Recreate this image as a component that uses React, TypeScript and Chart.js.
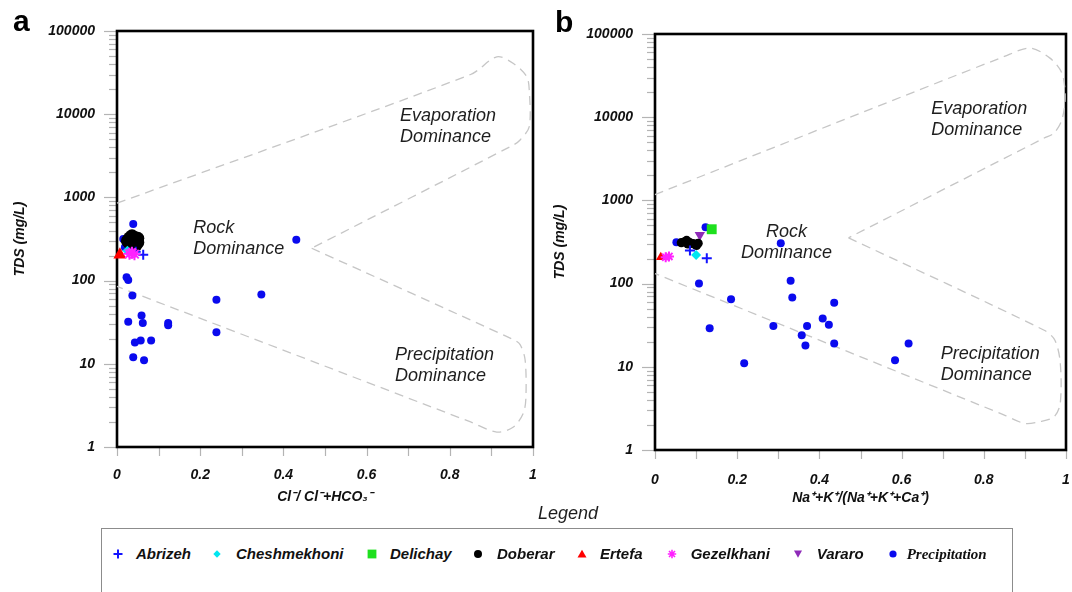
import React, { useEffect, useRef } from "react";
import { Chart, registerables } from "chart.js";

Chart.register(...registerables);

const SANS = "'Liberation Sans', Arial, Helvetica, sans-serif";
const SERIF = "'Liberation Serif', 'Times New Roman', serif";

// ---------- axes ----------
const xTickValues = [0, 0.2, 0.4, 0.6, 0.8, 1];
const xTickLabels = ["0", "0.2", "0.4", "0.6", "0.8", "1"];
const xMinorTicks = [0, 0.1, 0.2, 0.3, 0.4, 0.5, 0.6, 0.7, 0.8, 0.9, 1];
const yTickValues = [1, 10, 100, 1000, 10000, 100000];
const yTickLabels = ["1", "10", "100", "1000", "10000", "100000"];
const yDecades = [1, 10, 100, 1000, 10000];
const yMultipliers = [1, 2, 3, 4, 5, 6, 7, 8, 9];

// ---------- series ----------
const seriesNames = ["Abrizeh", "Cheshmekhoni", "Delichay", "Doberar", "Ertefa", "Gezelkhani", "Vararo", "Precipitation"];
const seriesColors = ["#1414ff", "#00e6f0", "#1ee01e", "#000000", "#ff0000", "#ff22ff", "#8e2ab8", "#0a0aee"];
const seriesShapes = ["cross", "diamond", "square", "circle", "triUp", "star", "triDown", "circle"];

// Panel a : x = Cl/(Cl+HCO3), y = TDS (mg/L)
const abrizehA = [[0.063, 205], [0.045, 222]];
const cheshmekhoniA = [[0.025, 228]];
const delichayA = [[0.04, 300]];
const doberarA = [[0.025, 300], [0.03, 325], [0.036, 345], [0.042, 330], [0.04, 312], [0.046, 300], [0.05, 288], [0.04, 278], [0.03, 282], [0.05, 322], [0.036, 262], [0.046, 268], [0.028, 305], [0.034, 295]];
const ertefaA = [[0.007, 205]];
const gezelkhaniA = [[0.03, 210], [0.036, 216], [0.042, 208]];
const vararoA = [[0.046, 292]];
const precipitationA = [[0.039, 480], [0.015, 317], [0.431, 310], [0.019, 252], [0.023, 110], [0.027, 102], [0.037, 66], [0.239, 59], [0.347, 68], [0.059, 38], [0.027, 32], [0.062, 31], [0.123, 31], [0.123, 29], [0.239, 24], [0.082, 19], [0.057, 19], [0.043, 18], [0.039, 12], [0.065, 11]];

// Panel b : x = Na+K/(Na+K+Ca), y = TDS (mg/L)
const abrizehB = [[0.085, 250], [0.126, 201]];
const cheshmekhoniB = [[0.1, 220]];
const delichayB = [[0.138, 450]];
const doberarB = [[0.064, 310], [0.072, 318], [0.077, 330], [0.085, 310], [0.093, 302], [0.098, 295], [0.101, 288], [0.105, 305], [0.08, 300]];
const ertefaB = [[0.014, 207]];
const gezelkhaniB = [[0.026, 208], [0.034, 212]];
const vararoB = [[0.109, 383]];
const precipitationB = [[0.052, 315], [0.123, 475], [0.306, 305], [0.107, 100], [0.185, 65], [0.133, 29], [0.217, 11], [0.33, 108], [0.334, 68], [0.288, 31], [0.357, 24], [0.366, 18], [0.37, 31], [0.436, 59], [0.408, 38], [0.423, 32], [0.436, 19], [0.617, 19], [0.584, 12]];

// Gibbs boundary (dashed boomerang) outlines
const upperBoundA = [[0, 851], [0.85, 30000], [0.913, 49000], [0.953, 40700], [0.985, 28200], [0.991, 19500], [0.991, 7080], [0.969, 4900], [0.953, 4270], [0.468, 245]];
const lowerBoundA = [[0.468, 245], [0.953, 19.5], [0.969, 17], [0.981, 11.2], [0.983, 4.0], [0.977, 2.57], [0.953, 1.74], [0.913, 1.51], [0.85, 2.0], [0, 85]];
const upperBoundB = [[0, 1175], [0.85, 53700], [0.913, 67600], [0.961, 51300], [0.99, 33900], [0.998, 17400], [0.99, 9330], [0.971, 6460], [0.947, 5620], [0.471, 355]];
const lowerBoundB = [[0.471, 355], [0.947, 27.5], [0.973, 20.9], [0.986, 11.2], [0.986, 3.63], [0.971, 2.51], [0.937, 2.19], [0.899, 2.09], [0.85, 2.63], [0, 132]];

// region labels
const notesA = [
  { lines: ["Evaporation", "Dominance"], x: 0.68, y: 8300, align: "left" },
  { lines: ["Rock", "Dominance"], x: 0.183, y: 372, align: "left" },
  { lines: ["Precipitation", "Dominance"], x: 0.668, y: 11.1, align: "left" },
];
const notesB = [
  { lines: ["Evaporation", "Dominance"], x: 0.672, y: 10960, align: "left" },
  { lines: ["Rock", "Dominance"], x: 0.32, y: 366, align: "center" },
  { lines: ["Precipitation", "Dominance"], x: 0.695, y: 12.3, align: "left" },
];

const seriesA = [abrizehA, cheshmekhoniA, delichayA, doberarA, ertefaA, gezelkhaniA, vararoA, precipitationA];
const seriesB = [abrizehB, cheshmekhoniB, delichayB, doberarB, ertefaB, gezelkhaniB, vararoB, precipitationB];

const toXY = (arr: number[][]) => arr.map(([x, y]) => ({ x, y }));

function pointStyleFor(i: number, big: boolean) {
  const c = seriesColors[i];
  switch (seriesShapes[i]) {
    case "cross":
      return { pointStyle: "cross", pointRadius: 5, borderColor: c, backgroundColor: c, pointBorderWidth: 2 };
    case "diamond":
      return { pointStyle: "rectRot", pointRadius: 5, borderColor: c, backgroundColor: c, pointBorderWidth: 0 };
    case "square":
      return { pointStyle: "rect", pointRadius: 7, borderColor: c, backgroundColor: c, pointBorderWidth: 0 };
    case "triUp":
      return { pointStyle: "triangle", pointRadius: big ? 7.5 : 5.5, borderColor: c, backgroundColor: c, pointBorderWidth: 0 };
    case "triDown":
      return { pointStyle: "triangle", rotation: 180, pointRadius: 6, borderColor: c, backgroundColor: c, pointBorderWidth: 0 };
    case "star":
      return { pointStyle: "star", pointRadius: big ? 6 : 5, borderColor: c, backgroundColor: c, pointBorderWidth: 2 };
    default:
      return {
        pointStyle: "circle",
        pointRadius: seriesNames[i] === "Doberar" ? (big ? 6.5 : 4.6) : 4,
        borderColor: c,
        backgroundColor: c,
        pointBorderWidth: 0,
      };
  }
}

// drawing order: first dataset drawn on top
const drawOrder = [5, 4, 0, 1, 3, 6, 2, 7];

const decorPlugin = {
  id: "decor",
  beforeDatasetsDraw(chart: any, _args: any, opts: any) {
    const { ctx, chartArea: a, scales } = chart;
    const x = scales.x;
    const y = scales.y;
    ctx.save();
    // y ticks (major + minor)
    ctx.strokeStyle = "#b4b4b4";
    ctx.lineWidth = 1.2;
    const yVals: number[] = [];
    yDecades.forEach((d) => yMultipliers.forEach((m) => yVals.push(d * m)));
    yVals.push(100000);
    yVals.forEach((v) => {
      const py = Math.round(y.getPixelForValue(v)) + 0.5;
      const major = yTickValues.includes(v);
      ctx.beginPath();
      ctx.moveTo(a.left - (major ? 13 : 8), py);
      ctx.lineTo(a.left, py);
      ctx.stroke();
    });
    // x ticks
    xMinorTicks.forEach((v) => {
      const px = Math.round(x.getPixelForValue(v)) + 0.5;
      ctx.beginPath();
      ctx.moveTo(px, a.bottom);
      ctx.lineTo(px, a.bottom + 9);
      ctx.stroke();
    });
    // frame
    ctx.strokeStyle = "#000";
    ctx.lineWidth = 2.6;
    ctx.strokeRect(a.left, a.top, a.right - a.left, a.bottom - a.top);
    // region labels
    ctx.fillStyle = "#1e1e1e";
    ctx.font = `italic 18px ${SANS}`;
    ctx.textBaseline = "alphabetic";
    (opts.notes || []).forEach((n: any) => {
      const px = x.getPixelForValue(n.x);
      const py = y.getPixelForValue(n.y);
      ctx.textAlign = n.align;
      n.lines.forEach((t: string, i: number) => ctx.fillText(t, px, py + i * 21));
    });
    // panel letter
    ctx.fillStyle = "#000";
    ctx.font = `bold 30px ${SANS}`;
    ctx.textAlign = "left";
    ctx.fillText(opts.letter, opts.letterX, opts.letterY);
    ctx.restore();
  },
};

function buildChart(canvas: HTMLCanvasElement, p: any) {
  const datasets: any[] = drawOrder.map((i) => ({
    label: seriesNames[i],
    data: toXY(p.series[i]),
    showLine: false,
    clip: false,
    ...pointStyleFor(i, p.big),
  }));
  [p.upper, p.lower].forEach((b: number[][], k: number) => {
    datasets.push({
      label: k === 0 ? "upper boundary" : "lower boundary",
      data: toXY(b),
      showLine: true,
      borderColor: "#c6c6c6",
      borderWidth: 1.3,
      borderDash: [9, 6],
      pointRadius: 0,
      tension: 0.3,
      fill: false,
      clip: false,
    });
  });

  const tickFont = { family: SANS, size: 14, weight: "bold" as const, style: "italic" as const };
  return new Chart(canvas, {
    type: "scatter",
    data: { datasets },
    plugins: [decorPlugin],
    options: {
      animation: false,
      responsive: false,
      maintainAspectRatio: false,
      events: [],
      layout: { padding: { top: p.padTop, right: p.padRight, bottom: 0, left: 0 } },
      plugins: {
        legend: { display: false },
        tooltip: { enabled: false },
        decor: { notes: p.notes, letter: p.letter, letterX: p.letterX, letterY: p.letterY },
      } as any,
      scales: {
        x: {
          type: "linear",
          min: 0,
          max: 1,
          grid: { display: false, drawTicks: false },
          border: { display: false },
          afterBuildTicks: (s: any) => {
            s.ticks = xTickValues.map((v) => ({ value: v }));
          },
          afterFit: (s: any) => {
            s.height = p.xAxisHeight;
            s.paddingLeft = 0;
            s.paddingRight = 0;
            s.paddingTop = 0;
            s.paddingBottom = 0;
          },
          ticks: {
            autoSkip: false,
            maxRotation: 0,
            padding: p.xTickPad,
            color: "#111",
            font: tickFont,
            callback: (_v: any, i: number) => xTickLabels[i],
          },
          title: {
            display: true,
            text: p.xTitle,
            color: "#111",
            font: { family: SANS, size: 14, weight: "bold", style: "italic" },
            padding: { top: 0, bottom: p.xTitlePad },
          },
        },
        y: {
          type: "logarithmic",
          min: 1,
          max: 100000,
          grid: { display: false, drawTicks: false },
          border: { display: false },
          afterBuildTicks: (s: any) => {
            s.ticks = yTickValues.map((v) => ({ value: v }));
          },
          afterFit: (s: any) => {
            s.width = 117;
            s.paddingLeft = 0;
            s.paddingRight = 0;
            s.paddingTop = 0;
            s.paddingBottom = 0;
          },
          ticks: {
            autoSkip: false,
            padding: 22,
            color: "#111",
            font: tickFont,
            callback: (_v: any, i: number) => yTickLabels[i],
          },
          title: {
            display: true,
            text: "TDS (mg/L)",
            color: "#111",
            font: { family: SANS, size: 14, weight: "bold", style: "italic" },
            padding: { top: p.yTitlePad, bottom: 0 },
          },
        },
      },
    } as any,
  });
}

const panelA = {
  series: seriesA,
  upper: upperBoundA,
  lower: lowerBoundA,
  notes: notesA,
  letter: "a",
  letterX: 13,
  letterY: 31,
  xTitle: "Cl⁻/ Cl⁻+HCO₃⁻",
  big: true,
  padTop: 31,
  padRight: 12,
  xAxisHeight: 73,
  xTickPad: 20,
  xTitlePad: 14,
  yTitlePad: 12,
};
const panelB = {
  series: seriesB,
  upper: upperBoundB,
  lower: lowerBoundB,
  notes: notesB,
  letter: "b",
  letterX: 17,
  letterY: 32,
  xTitle: "Na⁺+K⁺/(Na⁺+K⁺+Ca⁺)",
  big: false,
  padTop: 34,
  padRight: 4,
  xAxisHeight: 70,
  xTickPad: 22,
  xTitlePad: 13,
  yTitlePad: 14,
};

// legend layout (page pixels)
const legendMarkerX = [117.7, 216.7, 371.7, 478, 581.5, 672, 798, 892.7];
const legendTextX = [136, 236, 390, 497, 600, 690.7, 816.7, 906.7];

function Marker({ shape, color, cx, cy }: any) {
  let el: any;
  switch (shape) {
    case "cross":
      el = <path d="M1.5 6 H10.5 M6 1.5 V10.5" stroke={color} strokeWidth={2} />;
      break;
    case "diamond":
      el = <polygon points="6,2.3 9.7,6 6,9.7 2.3,6" fill={color} />;
      break;
    case "square":
      el = <rect x={1.6} y={1.6} width={8.8} height={8.8} fill={color} />;
      break;
    case "triUp":
      el = <polygon points="6,1.8 10.5,9.6 1.5,9.6" fill={color} />;
      break;
    case "triDown":
      el = <polygon points="2,2.4 10,2.4 6,9.8" fill={color} />;
      break;
    case "star":
      el = (
        <path
          d="M6 1.8 V10.2 M1.8 6 H10.2 M3 3 L9 9 M9 3 L3 9"
          stroke={color}
          strokeWidth={1.6}
        />
      );
      break;
    default:
      el = <circle cx={6} cy={6} r={shape === "circle" && color === "#000000" ? 4 : 3.6} fill={color} />;
  }
  return (
    <svg width={12} height={12} viewBox="0 0 12 12" style={{ position: "absolute", left: cx - 6, top: cy - 6 }}>
      {el}
    </svg>
  );
}

export default function App() {
  const refA = useRef<HTMLCanvasElement>(null);
  const refB = useRef<HTMLCanvasElement>(null);

  useEffect(() => {
    const ca = buildChart(refA.current as HTMLCanvasElement, panelA);
    const cb = buildChart(refB.current as HTMLCanvasElement, panelB);
    return () => {
      ca.destroy();
      cb.destroy();
    };
  }, []);

  return (
    <div
      style={{
        position: "fixed",
        left: 0,
        top: 0,
        width: 1072,
        height: 592,
        overflow: "hidden",
        background: "#ffffff",
        fontFamily: SANS,
      }}
    >
      <canvas
        ref={refA}
        width={545}
        height={520}
        style={{ position: "absolute", left: 0, top: 0, width: 545, height: 520 }}
      />
      <canvas
        ref={refB}
        width={535}
        height={520}
        style={{ position: "absolute", left: 538, top: 0, width: 535, height: 520 }}
      />
      <div
        style={{
          position: "absolute",
          left: 568,
          top: 502,
          transform: "translateX(-50%)",
          fontSize: 18,
          lineHeight: "22px",
          fontStyle: "italic",
          color: "#1e1e1e",
          whiteSpace: "nowrap",
        }}
      >
        Legend
      </div>
      <div
        style={{
          position: "absolute",
          left: 101,
          top: 528,
          width: 912,
          height: 100,
          border: "1.5px solid #8c8c8c",
          boxSizing: "border-box",
        }}
      />
      {seriesNames.map((name, i) => (
        <React.Fragment key={name}>
          <Marker shape={seriesShapes[i]} color={seriesColors[i]} cx={legendMarkerX[i]} cy={554} />
          <div
            style={{
              position: "absolute",
              left: legendTextX[i],
              top: 544,
              fontSize: 15,
              lineHeight: "20px",
              fontWeight: "bold",
              fontStyle: "italic",
              fontFamily: name === "Precipitation" ? SERIF : SANS,
              color: "#111",
              whiteSpace: "nowrap",
            }}
          >
            {name}
          </div>
        </React.Fragment>
      ))}
    </div>
  );
}
